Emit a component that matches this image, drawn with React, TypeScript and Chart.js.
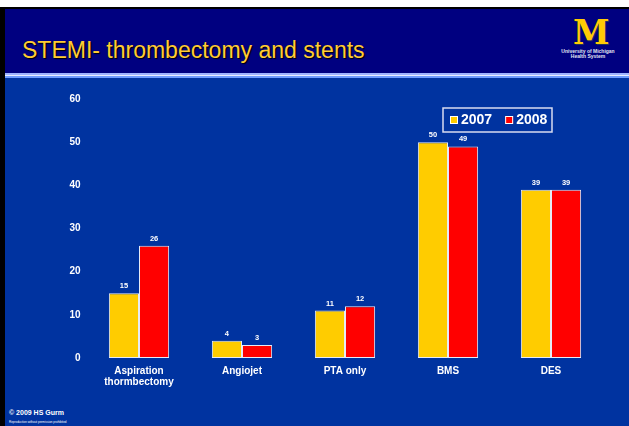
import React, { useEffect, useRef } from 'react';
import { Chart, registerables } from 'chart.js';

Chart.register(...registerables);

const categories: (string | string[])[] = [['Aspiration', 'thormbectomy'], 'Angiojet', 'PTA only', 'BMS', 'DES'];
const series2007 = [15, 4, 11, 50, 39];
const series2008 = [26, 3, 12, 49, 39];
const seriesLabels = ['2007', '2008'];
const seriesColors = ['#FFCC00', '#FF0000'];
const yMin = 0;
const yMax = 60;
const yStep = 10;

const FONT = '"Liberation Sans", Arial, Helvetica, sans-serif';

const valueLabelPlugin = {
  id: 'valueLabels',
  afterDatasetsDraw(chart: any) {
    const ctx = chart.ctx;
    ctx.save();
    ctx.font = `bold 7.5px ${FONT}`;
    ctx.fillStyle = '#ffffff';
    ctx.textAlign = 'center';
    ctx.textBaseline = 'alphabetic';
    chart.data.datasets.forEach((ds: any, di: number) => {
      const meta = chart.getDatasetMeta(di);
      meta.data.forEach((el: any, i: number) => {
        ctx.fillText(String(ds.data[i]), el.x, el.y - 5);
      });
    });
    ctx.restore();
  },
};

const boxLegendPlugin = {
  id: 'boxLegend',
  afterDraw(chart: any) {
    const ctx = chart.ctx;
    const area = chart.chartArea;
    ctx.save();
    const boxRight = area.right - 50.5;
    const boxW = 109;
    const boxH = 24;
    const boxLeft = boxRight - boxW;
    const boxTop = area.top + 9;
    ctx.strokeStyle = '#d8dcf0';
    ctx.lineWidth = 1.5;
    ctx.strokeRect(boxLeft, boxTop, boxW, boxH);
    ctx.font = `bold 14px ${FONT}`;
    ctx.textBaseline = 'middle';
    ctx.textAlign = 'left';
    let x = boxLeft + 7;
    const cy = boxTop + boxH / 2;
    chart.data.datasets.forEach((ds: any) => {
      ctx.fillStyle = ds.backgroundColor;
      ctx.fillRect(x, cy - 4, 8, 8);
      ctx.strokeStyle = '#ffffff';
      ctx.lineWidth = 1;
      ctx.strokeRect(x + 0.5, cy - 3.5, 7, 7);
      x += 11;
      ctx.fillStyle = '#ffffff';
      ctx.fillText(ds.label, x, cy + 0.5);
      x += ctx.measureText(ds.label).width + 13;
    });
    ctx.restore();
  },
};

function ChartCanvas() {
  const ref = useRef<HTMLCanvasElement>(null);
  useEffect(() => {
    if (!ref.current) return;
    const chart = new Chart(ref.current, {
      type: 'bar',
      data: {
        labels: categories,
        datasets: [
          {
            label: seriesLabels[0],
            data: series2007,
            backgroundColor: seriesColors[0],
            borderColor: 'rgba(255,255,255,0.9)',
            borderWidth: 1,
            borderSkipped: false,
          },
          {
            label: seriesLabels[1],
            data: series2008,
            backgroundColor: seriesColors[1],
            borderColor: 'rgba(255,255,255,0.9)',
            borderWidth: 1,
            borderSkipped: false,
          },
        ],
      },
      options: {
        animation: false,
        responsive: false,
        maintainAspectRatio: false,
        layout: { padding: { left: 0, right: 26.5, top: 99, bottom: 0 } },
        plugins: {
          legend: { display: false },
          tooltip: { enabled: false },
          title: { display: false },
        },
        datasets: {
          bar: { categoryPercentage: 0.585, barPercentage: 1 },
        },
        scales: {
          x: {
            grid: { display: false, drawTicks: false },
            border: { display: false },
            ticks: {
              color: '#ffffff',
              font: { family: FONT, size: 10, weight: 'bold', lineHeight: 1.1 },
              padding: 8,
              maxRotation: 0,
              autoSkip: false,
            },
            afterFit: (s: any) => {
              s.height = 68;
            },
          },
          y: {
            min: yMin,
            max: yMax,
            grid: { display: false, drawTicks: false },
            border: { display: false },
            ticks: {
              stepSize: yStep,
              color: '#ffffff',
              font: { family: FONT, size: 10, weight: 'bold' },
              padding: 7,
            },
            afterFit: (s: any) => {
              s.width = 87.5;
            },
          },
        },
      },
      plugins: [valueLabelPlugin, boxLegendPlugin],
    } as any);
    return () => chart.destroy();
  }, []);
  return <canvas ref={ref} width={629} height={426} style={{ position: 'absolute', left: 0, top: 0, width: 629, height: 426 }} />;
}

export default function App() {
  useEffect(() => {
    document.body.style.margin = '0';
  }, []);
  return (
    <div style={{ position: 'fixed', left: 0, top: 0, width: 629, height: 426, background: '#ffffff', overflow: 'hidden', fontFamily: FONT }}>
      {/* slide frame */}
      <div style={{ position: 'absolute', left: 0, top: 7, width: 629, height: 419, background: '#000000' }} />
      <div style={{ position: 'absolute', left: 5, top: 9, width: 624, height: 64, background: '#000080' }} />
      <div style={{ position: 'absolute', left: 5, top: 73, width: 624, height: 2, background: '#9fb4ff' }} />
      <div style={{ position: 'absolute', left: 5, top: 75, width: 624, height: 1, background: '#e8eeff' }} />
      <div style={{ position: 'absolute', left: 5, top: 76, width: 624, height: 2, background: '#6f9cff' }} />
      <div style={{ position: 'absolute', left: 5, top: 78, width: 624, height: 348, background: '#0033A0' }} />
      {/* title */}
      <div style={{ position: 'absolute', left: 22, top: 37, fontSize: 23, lineHeight: '26px', color: '#FFCC33', textShadow: '1px 1px 1px #000000', whiteSpace: 'nowrap' }}>
        STEMI- thrombectomy and stents
      </div>
      {/* logo */}
      <div style={{ position: 'absolute', left: 573, top: 14, fontFamily: '"DejaVu Serif", serif', fontWeight: 'bold', fontSize: 33, lineHeight: '38px', color: '#FFCB05', textShadow: '1px 1px 0 #23305a' }}>M</div>
      <div style={{ position: 'absolute', left: 560, top: 49, width: 56, textAlign: 'center', fontSize: 5, lineHeight: '5px', color: '#e0e4f0', fontWeight: 'bold' }}>
        University of Michigan<br />Health System
      </div>
      {/* footer */}
      <div style={{ position: 'absolute', left: 9, top: 409, fontSize: 7, fontWeight: 'bold', color: '#ffffff', whiteSpace: 'nowrap' }}>© 2009 HS Gurm</div>
      <div style={{ position: 'absolute', left: 9, top: 420, fontSize: 3, color: '#ffffff', whiteSpace: 'nowrap' }}>Reproduction without permission prohibited</div>
      <ChartCanvas />
    </div>
  );
}
